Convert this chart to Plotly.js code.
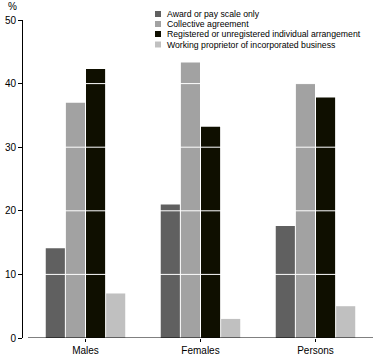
<!DOCTYPE html>
<html>
<head>
<meta charset="utf-8">
<script src="https://cdn.plot.ly/plotly-3.0.1.min.js"></script>
<style>html,body{margin:0;padding:0;background:#fff;}#chart{width:378px;height:359px;}</style>
</head>
<body>
<div id="chart"></div>
<script>
const categories = ["Males", "Females", "Persons"];
const seriesNames = [
  "Award or pay scale only",
  "Collective agreement",
  "Registered or unregistered individual arrangement",
  "Working proprietor of incorporated business"
];
const awardValues = [14.1, 21.0, 17.6];
const collectiveValues = [37.0, 43.3, 40.0];
const individualValues = [42.3, 33.2, 37.8];
const proprietorValues = [7.0, 3.0, 5.0];
const yTickValues = [0, 10, 20, 30, 40, 50];
const gridValues = [10, 20, 30, 40];

const seriesValues = [awardValues, collectiveValues, individualValues, proprietorValues];
const colors = ["#606060", "#a2a2a2", "#0f0f00", "#c0c0c0"];

const W = 378, H = 359;
const M = {l: 23, r: 5, t: 20, b: 21};
const plotW = W - M.l - M.r, plotH = H - M.t - M.b;
const px = x => (x - M.l) / plotW;
const py = y => (H - M.b - y) / plotH;

const traces = seriesValues.map((vals, i) => ({
  type: "bar",
  x: categories,
  y: vals,
  name: seriesNames[i],
  marker: {color: colors[i], line: {width: 0}},
  hoverinfo: "skip"
}));

const shapes = [];
const annotations = [];
gridValues.forEach(v => shapes.push({
  type: "line", xref: "x", yref: "y", x0: -0.5, x1: 2.5, y0: v, y1: v,
  line: {color: "#ffffff", width: 1}, layer: "above"
}));
shapes.push({
  type: "line", xref: "x", yref: "y", x0: -0.5, x1: 2.5, y0: 0, y1: 0,
  line: {color: "#000000", width: 1}, layer: "above"
});
const legendRows = [14, 24, 34, 44.5];
seriesNames.forEach((name, i) => {
  const yc = legendRows[i];
  shapes.push({
    type: "rect", xref: "paper", yref: "paper",
    x0: px(155), x1: px(161), y0: py(yc + 3), y1: py(yc - 3),
    fillcolor: colors[i], line: {width: 0}
  });
  annotations.push({
    xref: "paper", yref: "paper", x: px(165), y: py(yc),
    xanchor: "left", yanchor: "middle", showarrow: false,
    text: name, font: {family: "Liberation Sans, Arial, sans-serif", size: 8.7, color: "#000"}
  });
});
annotations.push({
  xref: "paper", yref: "paper", x: px(12), y: py(6),
  xanchor: "center", yanchor: "middle", showarrow: false,
  text: "%", font: {family: "Liberation Sans, Arial, sans-serif", size: 10, color: "#000"}
});

const layout = {
  width: W, height: H,
  margin: M,
  paper_bgcolor: "#fff", plot_bgcolor: "#fff",
  showlegend: false,
  barmode: "group",
  bargap: 0.30,
  bargroupgap: 0.05,
  font: {family: "Liberation Sans, Arial, sans-serif", size: 10, color: "#000"},
  xaxis: {
    type: "category",
    range: [2.5 - plotW / 115, 2.5],
    showline: false, showgrid: false, zeroline: false,
    ticks: "outside", ticklen: 3, tickcolor: "#000", tickwidth: 1,
    tickfont: {size: 10}
  },
  yaxis: {
    range: [0, 50],
    tickvals: yTickValues,
    showline: true, linecolor: "#000", linewidth: 1,
    showgrid: false, zeroline: false,
    ticks: "outside", ticklen: 4, tickcolor: "#000", tickwidth: 1,
    tickfont: {size: 10}
  },
  shapes: shapes,
  annotations: annotations
};

Plotly.newPlot("chart", traces, layout, {staticPlot: true, displayModeBar: false});
</script>
</body>
</html>
